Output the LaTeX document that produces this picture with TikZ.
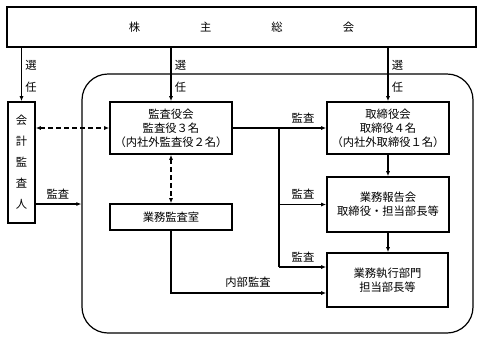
\documentclass[tikz,border=0pt]{standalone}
\usepackage{fontspec}
\setmainfont{Noto Sans CJK JP}
\usetikzlibrary{arrows.meta,calc}
\begin{document}
\begin{tikzpicture}[x=1pt,y=-1pt,
  every node/.style={font=\fontsize{11.3}{14}\selectfont, inner sep=0pt},
  box/.style={draw, line width=1.6pt, align=center},
  arr/.style={line width=1.1pt, -{Latex[length=5pt,width=4pt]}},
  darr/.style={line width=1.1pt, dashed, dash pattern=on 5pt off 3pt, {Latex[length=5pt,width=4pt]}-{Latex[length=5pt,width=4pt]}},
  plain/.style={line width=1.1pt},
  lbl/.style={align=center}]
\useasboundingbox (0,0) rectangle (483,341);
% big rounded frame
\node[draw, line width=1.2pt, rounded corners=26pt, minimum width=391pt, minimum height=259pt] (org) at (277.5,203.5) {};
% nodes
\node[box, line width=1.8pt, minimum width=469pt, minimum height=40pt] (top) at (241.5,27) {株\hspace{60pt}主\hspace{60pt}総\hspace{60pt}会};
\node[box, minimum width=27pt, minimum height=121pt, font=\fontsize{11.3}{21}\selectfont] (kaikei) at (21.5,162.5) {会\\計\\監\\査\\人};
\node[box, minimum width=122pt, minimum height=52pt] (kansa) at (171,128) {監査役会\\監査役３名\\（内社外監査役２名）};
\node[box, minimum width=122pt, minimum height=26pt] (gkansa) at (171,217) {業務監査室};
\node[box, minimum width=122pt, minimum height=52pt] (tori) at (388,128) {取締役会\\取締役４名\\（内社外取締役１名）};
\node[box, minimum width=122pt, minimum height=55pt] (hokoku) at (388,204.5) {業務報告会\\取締役・担当部長等};
\node[box, minimum width=121pt, minimum height=54pt] (shikko) at (387.5,280) {業務執行部門\\担当部長等};
% election arrows
\draw[arr] (kaikei.north |- top.south) -- (kaikei.north);
\draw[arr] (kansa.north |- top.south) -- (kansa.north);
\draw[arr] (tori.north |- top.south) -- (tori.north);
\node[lbl, font=\fontsize{11.3}{22}\selectfont] (s1) at (31,76) {選\\任};
\node[lbl, font=\fontsize{11.3}{22}\selectfont] (s2) at (180.5,76) {選\\任};
\node[lbl, font=\fontsize{11.3}{22}\selectfont] (s3) at (397.5,76) {選\\任};
% dashed
\draw[darr] (kaikei.east |- kansa.west) -- (kansa.west);
\draw[darr] (kansa.south) -- (gkansa.north);
% kaikei audit
\coordinate (k2) at (35,204);
\draw[arr] (k2) -- (k2 -| org.west);
\node (l1) at (58,194) {監査};
% kansa to tori
\draw[arr] (kansa.east) -- (tori.west);
\node (l2) at (303,118) {監査};
\coordinate (j) at (279,128);
\coordinate (j3) at (279,267);
\draw[plain] (j) -- (j3);
\draw[arr] (j |- hokoku.west) -- (hokoku.west);
\node (l3) at (303,194) {監査};
\draw[arr] (j3) -- (j3 -| shikko.west);
\node (l4) at (303,257) {監査};
% vertical chain
\draw[arr] (tori.south) -- (hokoku.north);
\draw[arr] (hokoku.south) -- (hokoku.south |- shikko.north);
% internal audit
\coordinate (ia) at (171,293);
\draw[arr] (gkansa.south) -- (ia) -- (ia -| shikko.west);
\node (l5) at (248,282) {内部監査};
\end{tikzpicture}
\end{document}
